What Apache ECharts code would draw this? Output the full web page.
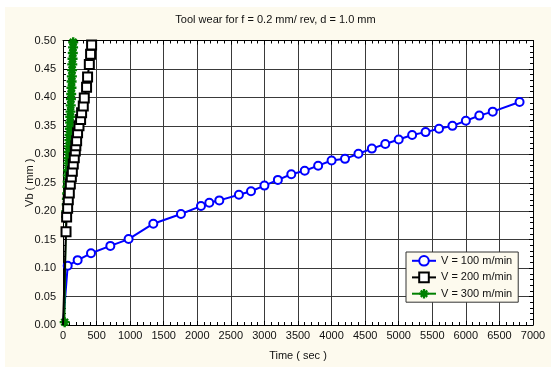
<!DOCTYPE html>
<html>
<head>
<meta charset="utf-8">
<script src="https://cdn.jsdelivr.net/npm/echarts@6/dist/echarts.min.js"></script>
<style>
  html, body { margin: 0; padding: 0; background: #ffffff; }
  #chart { width: 551px; height: 367px; }
</style>
</head>
<body>
<div id="chart"></div>
<script>
// V = 100 m/min
const time100 = [0, 70, 218, 417, 705, 977, 1345, 1757, 2055, 2179, 2328, 2620, 2800, 3000, 3200, 3400, 3600, 3800, 4000, 4200, 4400, 4600, 4800, 5000, 5200, 5400, 5600, 5800, 6000, 6200, 6400, 6800]
const wear100 = [0, 0.104, 0.114, 0.126, 0.139, 0.151, 0.178, 0.195, 0.209, 0.215, 0.219, 0.229, 0.235, 0.245, 0.255, 0.265, 0.271, 0.280, 0.289, 0.292, 0.301, 0.310, 0.318, 0.326, 0.334, 0.339, 0.345, 0.350, 0.359, 0.368, 0.375, 0.392]

// V = 200 m/min
const time200 = [0, 45, 54, 69, 79, 94, 109, 124, 139, 153, 168, 183, 191, 203, 217, 238, 262, 277, 302, 317, 351, 366, 392, 411, 426]
const wear200 = [0, 0.164, 0.190, 0.205, 0.220, 0.232, 0.248, 0.260, 0.270, 0.283, 0.294, 0.306, 0.315, 0.324, 0.338, 0.350, 0.361, 0.373, 0.385, 0.399, 0.418, 0.436, 0.458, 0.476, 0.492]

// V = 300 m/min
const time300 = [25, 45, 50, 55, 58, 62, 66, 70, 72, 76, 80, 84, 86, 90, 95, 98, 102, 106, 108, 112, 115, 118, 122, 126, 128, 132, 135, 138, 142, 146, 150, 152]
const wear300 = [0.005, 0.190, 0.200, 0.212, 0.222, 0.231, 0.243, 0.252, 0.263, 0.272, 0.284, 0.293, 0.304, 0.314, 0.325, 0.334, 0.345, 0.356, 0.366, 0.375, 0.386, 0.397, 0.406, 0.417, 0.428, 0.437, 0.448, 0.458, 0.468, 0.478, 0.488, 0.497]

const seriesNames = ['V = 100 m/min', 'V = 200 m/min', 'V = 300 m/min']
const xTicks = { min: 0, max: 7000, step: 500 }
const yTicks = { min: 0, max: 0.5, step: 0.05 }

const cream = '#fdfaee'
const font = 'Liberation Sans, Arial, sans-serif'
// asterisk marker like the original plot
const starPath = 'path://M0 3.8L10 3.8L10 6.2L0 6.2Z M3.8 0L6.2 0L6.2 10L3.8 10Z M0.8 2.5L2.5 0.8L9.2 7.5L7.5 9.2Z M7.5 0.8L9.2 2.5L2.5 9.2L0.8 7.5Z'

// first point of the curves sits at the origin without a marker
const toData = (xs, ys, hideFirst) => xs.map((x, i) => {
  if (hideFirst && i === 0) return { value: [x, ys[i]], symbol: 'none' }
  return [x, ys[i]]
})

const chart = echarts.init(document.getElementById('chart'), null, { renderer: 'canvas' })

const gridLine = { show: true, lineStyle: { color: '#3a3a3a', width: 1 } }
const borderLine = { show: true, onZero: false, lineStyle: { color: '#000', width: 1 } }
const tickIn = { show: true, inside: true, length: 4, lineStyle: { color: '#000' } }
const minorIn = { show: true, splitNumber: 5, length: 3, lineStyle: { color: '#000' } }

const option = {
  backgroundColor: '#ffffff',
  animation: false,
  textStyle: { fontFamily: font },
  graphic: [
    {
      type: 'rect',
      z: -10,
      shape: { x: 5, y: 7, width: 546, height: 360 },
      style: { fill: cream }
    }
  ],
  title: {
    text: 'Tool wear for f = 0.2 mm/ rev, d = 1.0 mm',
    left: 'center',
    top: 14,
    padding: 0,
    textStyle: { fontSize: 11, fontWeight: 'normal', color: '#111', fontFamily: font }
  },
  legend: {
    data: seriesNames,
    orient: 'vertical',
    left: 406,
    top: 252,
    padding: [3, 6, 3, 5],
    itemGap: 5,
    itemWidth: 24,
    itemHeight: 12,
    backgroundColor: cream,
    borderColor: '#333',
    borderWidth: 1,
    borderRadius: 0,
    textStyle: { fontSize: 11, color: '#111', fontFamily: font }
  },
  grid: {
    left: 63,
    right: 18,
    top: 40.5,
    bottom: 42,
    show: true,
    backgroundColor: '#ffffff',
    borderWidth: 0
  },
  xAxis: [
    {
      type: 'value',
      min: xTicks.min,
      max: xTicks.max,
      interval: xTicks.step,
      name: 'Time ( sec )',
      nameLocation: 'middle',
      nameGap: 25,
      nameMoveOverlap: false,
      nameTextStyle: { fontSize: 11, color: '#111', fontFamily: font },
      axisLine: borderLine,
      axisTick: tickIn,
      minorTick: minorIn,
      axisLabel: { fontSize: 11, color: '#111', margin: 5, fontFamily: font, formatter: v => String(v) },
      splitLine: gridLine
    },
    {
      type: 'value',
      position: 'top',
      min: xTicks.min,
      max: xTicks.max,
      interval: xTicks.step,
      axisLine: borderLine,
      axisTick: tickIn,
      minorTick: minorIn,
      axisLabel: { show: false },
      splitLine: { show: false }
    }
  ],
  yAxis: [
    {
      type: 'value',
      min: yTicks.min,
      max: yTicks.max,
      interval: yTicks.step,
      name: 'Vb ( mm )',
      nameLocation: 'middle',
      nameGap: 28,
      nameMoveOverlap: false,
      nameTextStyle: { fontSize: 11, color: '#111', fontFamily: font },
      axisLine: borderLine,
      axisTick: tickIn,
      minorTick: minorIn,
      axisLabel: {
        fontSize: 11,
        color: '#111',
        margin: 7,
        fontFamily: font,
        formatter: v => v.toFixed(2)
      },
      splitLine: gridLine
    },
    {
      type: 'value',
      position: 'right',
      min: yTicks.min,
      max: yTicks.max,
      interval: yTicks.step,
      axisLine: borderLine,
      axisTick: tickIn,
      minorTick: minorIn,
      axisLabel: { show: false },
      splitLine: { show: false }
    }
  ],
  series: [
    {
      name: seriesNames[0],
      type: 'line',
      data: toData(time100, wear100, true),
      symbol: 'circle',
      symbolSize: 8,
      showAllSymbol: true,
      z: 2,
      lineStyle: { color: '#0000ff', width: 2 },
      itemStyle: { color: '#ffffff', borderColor: '#0000ff', borderWidth: 2 }
    },
    {
      name: seriesNames[1],
      type: 'line',
      data: toData(time200, wear200, true),
      symbol: 'rect',
      symbolSize: 9,
      showAllSymbol: true,
      z: 4,
      lineStyle: { color: '#000000', width: 2 },
      itemStyle: { color: '#ffffff', borderColor: '#000000', borderWidth: 2 }
    },
    {
      name: seriesNames[2],
      type: 'line',
      data: toData(time300, wear300, false),
      symbol: starPath,
      symbolSize: 10,
      showAllSymbol: true,
      z: 3,
      lineStyle: { color: '#008000', width: 1.5 },
      itemStyle: { color: '#008000', borderWidth: 0 }
    }
  ]
}

chart.setOption(option)
</script>
</body>
</html>
